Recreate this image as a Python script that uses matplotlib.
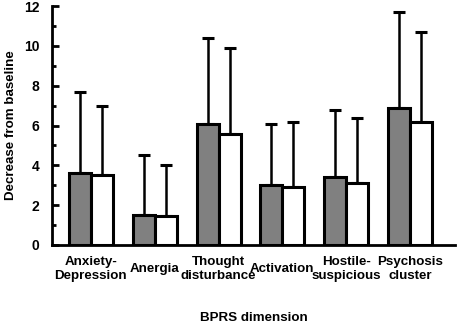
import numpy as np
import matplotlib
matplotlib.use("Agg")
from matplotlib import pyplot as plt
from matplotlib.ticker import MultipleLocator

## data ##
dimensions = ["Anxiety-\nDepression", "Anergia", "Thought\ndisturbance",
              "Activation", "Hostile-\nsuspicious", "Psychosis\ncluster"]
group1_mean = [3.6, 1.5, 6.1, 3.0, 3.4, 6.9]
group1_sd = [4.1, 3.0, 4.3, 3.1, 3.4, 4.8]
group2_mean = [3.5, 1.45, 5.6, 2.9, 3.1, 6.2]
group2_sd = [3.5, 2.55, 4.3, 3.3, 3.3, 4.5]

plt.rcParams['font.family'] = ['Liberation Sans', 'DejaVu Sans']
plt.rcParams['font.weight'] = 'bold'

fig = plt.figure(figsize=(4.58, 3.23), dpi=100)
ax = fig.add_axes([0.1135, 0.2415, 0.88, 0.7395])

x = np.arange(len(dimensions))
w = 0.345
err_style = dict(ecolor='black', elinewidth=1.8, capsize=4, capthick=2.2)

# bars with upper-only error bars
ax.bar(x - w / 2, group1_mean, width=w, color='#808080', edgecolor='black',
       linewidth=2.2, zorder=2)
ax.errorbar(x - w / 2, group1_mean, yerr=[np.zeros(6), group1_sd], fmt='none',
            zorder=1, **err_style)
ax.bar(x + w / 2, group2_mean, width=w, color='white', edgecolor='black',
       linewidth=2.2, zorder=2)
ax.errorbar(x + w / 2, group2_mean, yerr=[np.zeros(6), group2_sd], fmt='none',
            zorder=1, **err_style)

ax.set_xlim(-0.61, 5.705)
ax.set_ylim(0, 12)
ax.yaxis.set_major_locator(MultipleLocator(2))
ax.yaxis.set_minor_locator(MultipleLocator(1))
ax.tick_params(axis='y', which='major', direction='in', length=5, width=2,
               labelsize=10, pad=9)
ax.tick_params(axis='y', which='minor', direction='in', length=3, width=2)
ax.tick_params(axis='x', length=0, labelsize=9.6, pad=17)

ax.set_xticks(x)
ax.set_xticklabels(dimensions, va='center', linespacing=1.2)

for side in ['top', 'right']:
    ax.spines[side].set_visible(False)
for side in ['left', 'bottom']:
    ax.spines[side].set_linewidth(2)

ax.set_ylabel('Decrease from baseline', fontsize=9.6, fontweight='bold', labelpad=5)
ax.set_xlabel('BPRS dimension', fontsize=9.6, fontweight='bold', labelpad=22)

fig.savefig('out.png', dpi=100)
